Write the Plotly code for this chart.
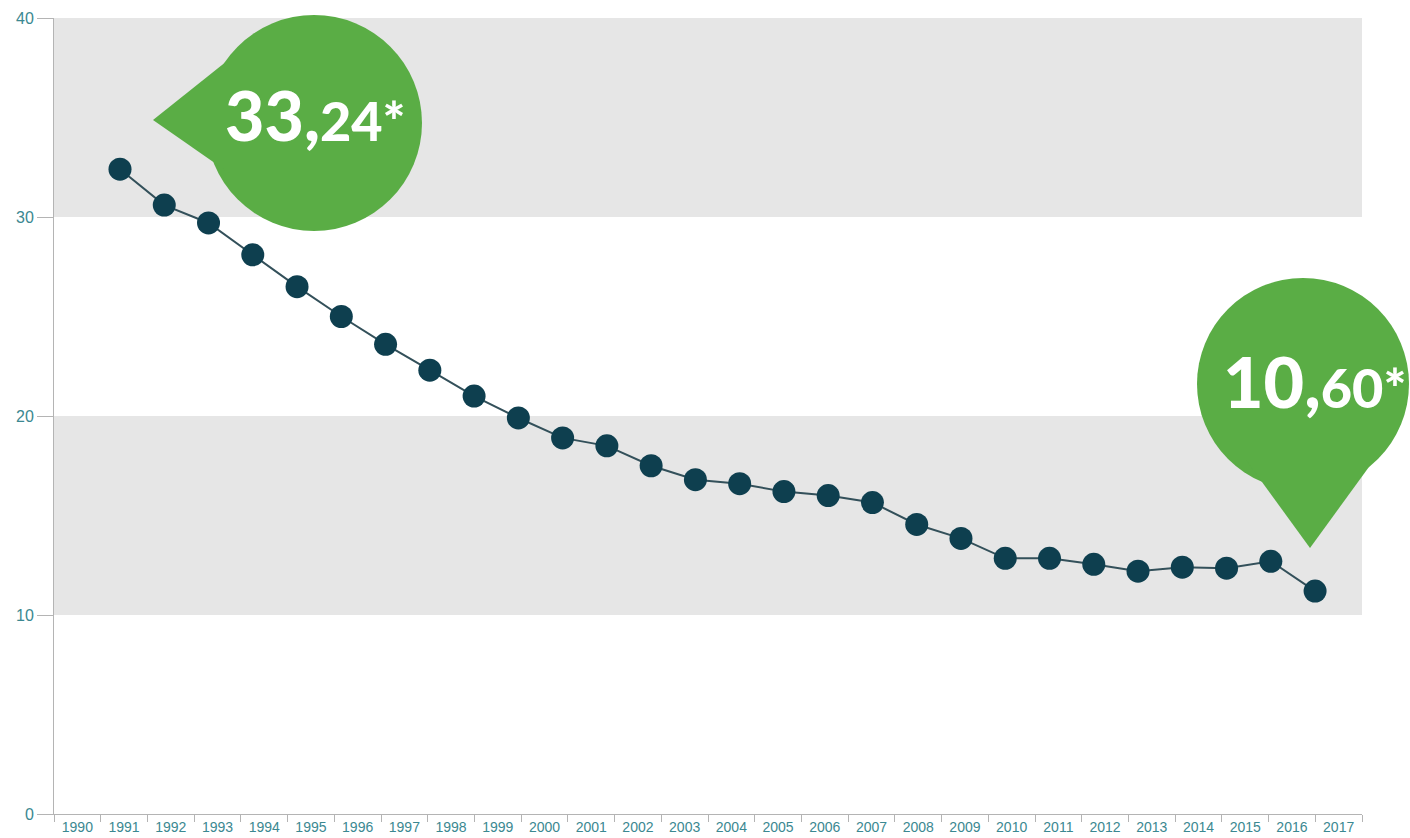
import plotly.graph_objects as go

# ---- data ----
years = list(range(1990, 2018))
values = [32.4, 30.6, 29.7, 28.1, 26.5, 25.0, 23.6, 22.3, 21.0, 19.9,
          18.9, 18.5, 17.5, 16.8, 16.6, 16.2, 16.0, 15.65, 14.55, 13.85,
          12.85, 12.85, 12.55, 12.2, 12.4, 12.35, 12.7, 11.2]
year_labels = [str(y) for y in years]
y_ticks = [0, 10, 20, 30, 40]
bands = [(10, 20), (30, 40)]
callout_first = ("33,", "24*")
callout_last = ("10,", "60*")

# ---- layout geometry (pixels) ----
W, H = 1410, 838
L, R, T, B = 54, 48, 18, 24
PW, PH = W - L - R, H - T - B

def px(x):
    return (x - L) / PW

def py(y):
    return (H - B - y) / PH

GREEN = "#5aad45"
DARK = "#0e3f4f"
TEAL = "#3b8891"
AXIS = "#b4b4b4"

fig = go.Figure()

# invisible trace that anchors the category (year) axis
fig.add_trace(go.Scatter(
    x=years, y=[None] * len(years), xaxis="x", yaxis="y",
    mode="markers", showlegend=False, hoverinfo="skip",
))

fig.add_trace(go.Scatter(
    x=years, y=values, xaxis="x2", yaxis="y",
    mode="lines+markers",
    line=dict(color="#33505a", width=2),
    marker=dict(color=DARK, size=23),
    showlegend=False, hoverinfo="skip",
))

shapes = []
for lo, hi in bands:
    shapes.append(dict(type="rect", xref="paper", yref="y", x0=0, x1=1, y0=lo, y1=hi,
                       fillcolor="#e6e6e6", line=dict(width=0), layer="below"))

def circle(cx, cy, r):
    return dict(type="circle", xref="paper", yref="paper",
                x0=px(cx - r), x1=px(cx + r), y0=py(cy + r), y1=py(cy - r),
                fillcolor=GREEN, line=dict(width=0), layer="above")

def tri(pts):
    path = "M " + " L ".join(f"{px(a):.5f},{py(b):.5f}" for a, b in pts) + " Z"
    return dict(type="path", xref="paper", yref="paper", path=path,
                fillcolor=GREEN, line=dict(width=0), layer="above")

shapes.append(circle(314, 123, 108))
shapes.append(tri([(153, 120), (232, 57), (232, 175)]))
shapes.append(circle(1303, 384, 106))
shapes.append(tri([(1246, 460), (1374, 460), (1310, 548)]))

def callout(big, small, cx, cy, bigsize, smallsize):
    return dict(xref="paper", yref="paper", x=px(cx), y=py(cy),
                xanchor="center", yanchor="middle", showarrow=False,
                text=f"{big}<span style='font-size:{smallsize}px'>{small}</span>",
                font=dict(family="Lato", size=bigsize, color="white", weight=900))

annotations = [
    callout(*callout_first, 315, 115, 68, 54),
    callout(*callout_last, 1314, 381, 70, 54),
]

fig.update_layout(
    width=W, height=H,
    margin=dict(l=L, r=R, t=T, b=B),
    paper_bgcolor="white", plot_bgcolor="white",
    shapes=shapes, annotations=annotations,
    xaxis=dict(
        range=[1989.5, 2017.5], tickvals=years, ticktext=year_labels,
        ticks="", showgrid=False, zeroline=False, automargin=False,
        showline=True, linecolor=AXIS, linewidth=1,
        tickfont=dict(family="Liberation Sans, Arial", size=14, color=TEAL),
        minor=dict(ticks="outside", tick0=1989.5, dtick=1, ticklen=7,
                   tickcolor=AXIS, showgrid=False),
    ),
    xaxis2=dict(overlaying="x", range=[1988.509, 2018.06], visible=False),
    yaxis=dict(
        range=[0, 40], tickvals=y_ticks, ticks="outside", ticklen=16,
        tickcolor=AXIS, showgrid=False, zeroline=False, automargin=False,
        showline=True, linecolor=AXIS, linewidth=1,
        tickfont=dict(family="Liberation Sans, Arial", size=16, color=TEAL),
    ),
)

fig.write_html("out.html", config={"displayModeBar": False},
               post_script="document.body.style.margin='0';document.body.style.overflow='hidden';")
